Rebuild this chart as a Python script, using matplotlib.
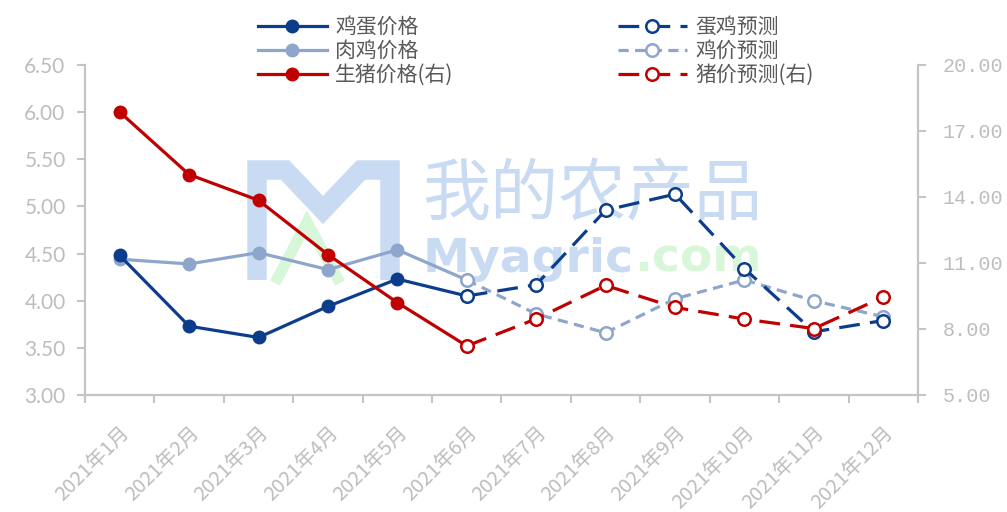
import numpy as np
import matplotlib
matplotlib.use("Agg")
import matplotlib.pyplot as plt
from matplotlib.lines import Line2D
from matplotlib.patches import Polygon

plt.rcParams['font.family'] = ['Noto Sans CJK SC', 'DejaVu Sans']

# ---------------- data ----------------
months = ["2021年1月", "2021年2月", "2021年3月", "2021年4月", "2021年5月", "2021年6月",
          "2021年7月", "2021年8月", "2021年9月", "2021年10月", "2021年11月", "2021年12月"]

egg_actual = [4.48, 3.73, 3.61, 3.94, 4.23, 4.05]            # Jan-Jun
egg_forecast = [4.05, 4.17, 4.96, 5.13, 4.34, 3.67, 3.79]    # Jun-Dec

broiler_actual = [4.44, 4.39, 4.51, 4.33, 4.54, 4.22]
broiler_forecast = [4.22, 3.86, 3.66, 4.02, 4.22, 4.00, 3.83]

pig_actual = [17.86, 15.02, 13.85, 11.38, 9.20, 7.23]         # right axis
pig_forecast = [7.23, 8.46, 9.98, 8.98, 8.45, 8.02, 9.45]

left_ticks = [3.00, 3.50, 4.00, 4.50, 5.00, 5.50, 6.00, 6.50]
right_ticks = [5.00, 8.00, 11.00, 14.00, 17.00, 20.00]

labels_actual = ["鸡蛋价格", "肉鸡价格", "生猪价格(右)"]
labels_forecast = ["蛋鸡预测", "鸡价预测", "猪价预测(右)"]

# ---------------- style ----------------
c_egg = "#0b3d8c"
c_broiler = "#8ea6cb"
c_pig = "#c00000"
c_axis = "#c4c4c4"
c_tick = "#bdbdbd"
lw = 2.3
ms = 9

fig = plt.figure(figsize=(10.07, 5.12), dpi=100)
ax = fig.add_axes([85 / 1007, 1 - 395 / 512, 833 / 1007, 330 / 512])
ax2 = ax.twinx()

x = np.arange(len(months))
xa = x[:len(egg_actual)]
xf = x[len(egg_actual) - 1:]

# watermark (behind lines)
wm_blue = "#c9dbf3"
wm_green = "#d8f6d8"
def fx(px):
    return (px - 85) / 833
def fy(py):
    return (395 - py) / 330
m_pts = [(257, 280), (257, 170), (285, 170), (323, 210), (361, 170), (390, 170), (390, 280)]
ax.plot([fx(p[0]) for p in m_pts], [fy(p[1]) for p in m_pts], transform=ax.transAxes,
        color=wm_blue, lw=14, solid_joinstyle='miter', solid_capstyle='butt', zorder=0.2)
tri = Polygon([[fx(275), fy(283)], [fx(307), fy(222)], [fx(340), fy(283)]], closed=False,
              transform=ax.transAxes, fill=False, edgecolor=wm_green, lw=8, zorder=0.1,
              joinstyle='miter')
ax.add_patch(tri)
ax.text(fx(592), fy(195), "我的农产品", transform=ax.transAxes, fontsize=49,
        color=wm_blue, ha='center', va='center', zorder=0.2)
ax.text(fx(423), fy(259), "Myagric", transform=ax.transAxes, fontsize=34, fontweight='bold',
        family='DejaVu Sans', color=wm_blue, ha='left', va='center', zorder=0.2)
ax.text(fx(762), fy(259), ".com", transform=ax.transAxes, fontsize=34, fontweight='bold',
        family='DejaVu Sans', color=wm_green, ha='right', va='center', zorder=0.2)

# primary axis lines
ax.plot(xa, egg_actual, color=c_egg, lw=lw, marker='o', ms=ms, zorder=3)
ax.plot(xa, broiler_actual, color=c_broiler, lw=lw, marker='o', ms=ms, zorder=2)
ax.plot(xf, egg_forecast, color=c_egg, lw=lw, ls=(0, (6.5, 3.2)), marker='o', ms=ms,
        mfc='white', mec=c_egg, mew=1.8, zorder=4)
ax.plot(xf, broiler_forecast, color=c_broiler, lw=lw, ls=(0, (3.2, 2.0)), marker='o', ms=ms,
        mfc='white', mec=c_broiler, mew=1.8, zorder=3.5)

# secondary axis lines
ax2.plot(xa, pig_actual, color=c_pig, lw=lw, marker='o', ms=ms, zorder=3)
ax2.plot(xf, pig_forecast, color=c_pig, lw=lw, ls=(0, (6.5, 3.2)), marker='o', ms=ms,
         mfc='white', mec=c_pig, mew=1.8, zorder=4)

# axes formatting
ax.set_xlim(-0.5, len(months) - 0.5)
ax.set_ylim(left_ticks[0], left_ticks[-1])
ax2.set_ylim(right_ticks[0], right_ticks[-1])
ax.set_yticks(left_ticks)
ax.set_yticklabels([f"{v:.2f}" for v in left_ticks])
ax2.set_yticks(right_ticks)
ax2.set_yticklabels([f"{v:.2f}" for v in right_ticks])

ax.set_xticks(x)
ax.set_xticklabels(months, rotation=45, ha='right', rotation_mode='anchor')
ax.set_xticks(np.arange(-0.5, len(months), 1.0), minor=True)
ax.tick_params(axis='x', which='major', length=0, pad=20, labelsize=14.5, labelcolor=c_tick)
ax.tick_params(axis='x', which='minor', length=6, width=1.5, color=c_axis, direction='out')
ax.tick_params(axis='y', length=6, width=1.5, color=c_axis, labelsize=15, labelcolor=c_tick, pad=8)
ax2.tick_params(axis='y', length=6, width=1.5, color=c_axis, labelsize=14.5, labelcolor=c_tick, pad=12)
for lab in ax.get_yticklabels():
    lab.set_family('Lato')
for lab in ax2.get_yticklabels():
    lab.set_family('Liberation Mono')

for a in (ax, ax2):
    a.spines['top'].set_visible(False)
    for s in ('left', 'right', 'bottom'):
        a.spines[s].set_color(c_axis)
        a.spines[s].set_linewidth(1.5)

# legend
handles = [
    Line2D([], [], color=c_egg, lw=lw, marker='o', ms=ms),
    Line2D([], [], color=c_broiler, lw=lw, marker='o', ms=ms),
    Line2D([], [], color=c_pig, lw=lw, marker='o', ms=ms),
    Line2D([], [], color=c_egg, lw=lw, ls=(0, (6.5, 3.2)), marker='o', ms=ms, mfc='white', mec=c_egg, mew=1.8),
    Line2D([], [], color=c_broiler, lw=lw, ls=(0, (3.2, 2.0)), marker='o', ms=ms, mfc='white', mec=c_broiler, mew=1.8),
    Line2D([], [], color=c_pig, lw=lw, ls=(0, (6.5, 3.2)), marker='o', ms=ms, mfc='white', mec=c_pig, mew=1.8),
]
leg = fig.legend(handles, labels_actual + labels_forecast, ncol=2, loc='upper left',
                 bbox_to_anchor=(258 / 1007, 1 - 16 / 512), frameon=False, fontsize=15,
                 handlelength=3.3, handletextpad=0.4, columnspacing=7.9, labelspacing=0.1,
                 borderpad=0, borderaxespad=0)
for t in leg.get_texts():
    t.set_color("#595959")

fig.savefig("out.png", dpi=100)
